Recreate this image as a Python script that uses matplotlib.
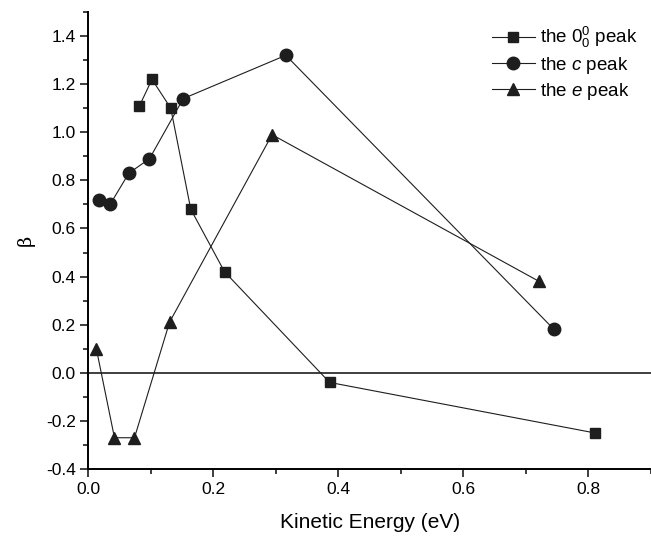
import matplotlib
matplotlib.use('Agg')
import matplotlib.pyplot as plt
import matplotlib.ticker as ticker

plt.rcParams['font.family'] = 'Liberation Sans'
plt.rcParams['mathtext.fontset'] = 'custom'
plt.rcParams['mathtext.rm'] = 'Liberation Sans'
plt.rcParams['mathtext.it'] = 'Liberation Sans:italic'

# the 0_0^0 peak
sq_x = [0.082, 0.102, 0.132, 0.164, 0.218, 0.386, 0.810]
sq_y = [1.11, 1.22, 1.10, 0.68, 0.42, -0.04, -0.25]

# the c peak
c_x = [0.017, 0.035, 0.065, 0.098, 0.152, 0.316, 0.745]
c_y = [0.72, 0.70, 0.83, 0.89, 1.14, 1.32, 0.18]

# the e peak
e_x = [0.013, 0.042, 0.074, 0.130, 0.294, 0.721]
e_y = [0.10, -0.27, -0.27, 0.21, 0.99, 0.38]

xticks = [0.0, 0.2, 0.4, 0.6, 0.8]
yticks = [-0.4, -0.2, 0.0, 0.2, 0.4, 0.6, 0.8, 1.0, 1.2, 1.4]

col = '#1e1e1e'

fig = plt.figure(figsize=(6.51, 5.36), dpi=100)
ax = fig.add_axes([0.1355, 0.125, 0.8645, 0.8526])

ax.axhline(0, color=col, lw=1.2, zorder=1)

ax.plot(sq_x, sq_y, color=col, lw=0.8, marker='s', ms=7.5, label='the $0_0^0$ peak')
ax.plot(c_x, c_y, color=col, lw=0.8, marker='o', ms=9, label='the $c$ peak')
ax.plot(e_x, e_y, color=col, lw=0.8, marker='^', ms=9, label='the $e$ peak')

ax.set_xlim(0, 0.9)
ax.set_ylim(-0.4, 1.5)
ax.set_xticks(xticks)
ax.set_yticks(yticks)
ax.xaxis.set_major_formatter(ticker.FormatStrFormatter('%.1f'))
ax.yaxis.set_major_formatter(ticker.FormatStrFormatter('%.1f'))
ax.xaxis.set_minor_locator(ticker.MultipleLocator(0.1))
ax.yaxis.set_minor_locator(ticker.MultipleLocator(0.1))
ax.tick_params(which='major', direction='out', length=6, width=1.2, labelsize=12.5, color=col, pad=3)
ax.tick_params(which='minor', direction='out', length=3.5, width=1.2, color=col)

ax.spines['top'].set_visible(False)
ax.spines['right'].set_visible(False)
ax.spines['left'].set_linewidth(1.4)
ax.spines['bottom'].set_linewidth(1.4)

ax.set_xlabel('Kinetic Energy (eV)', fontsize=15, labelpad=12)
ax.set_ylabel('β', fontsize=14, family='DejaVu Serif', labelpad=8)

ax.legend(loc='upper right', frameon=False, fontsize=13.5, handlelength=2.3,
          handletextpad=0.3, labelspacing=0.25, borderaxespad=0.3,
          bbox_to_anchor=(1.0, 1.0))

fig.savefig('out.png', dpi=100)
